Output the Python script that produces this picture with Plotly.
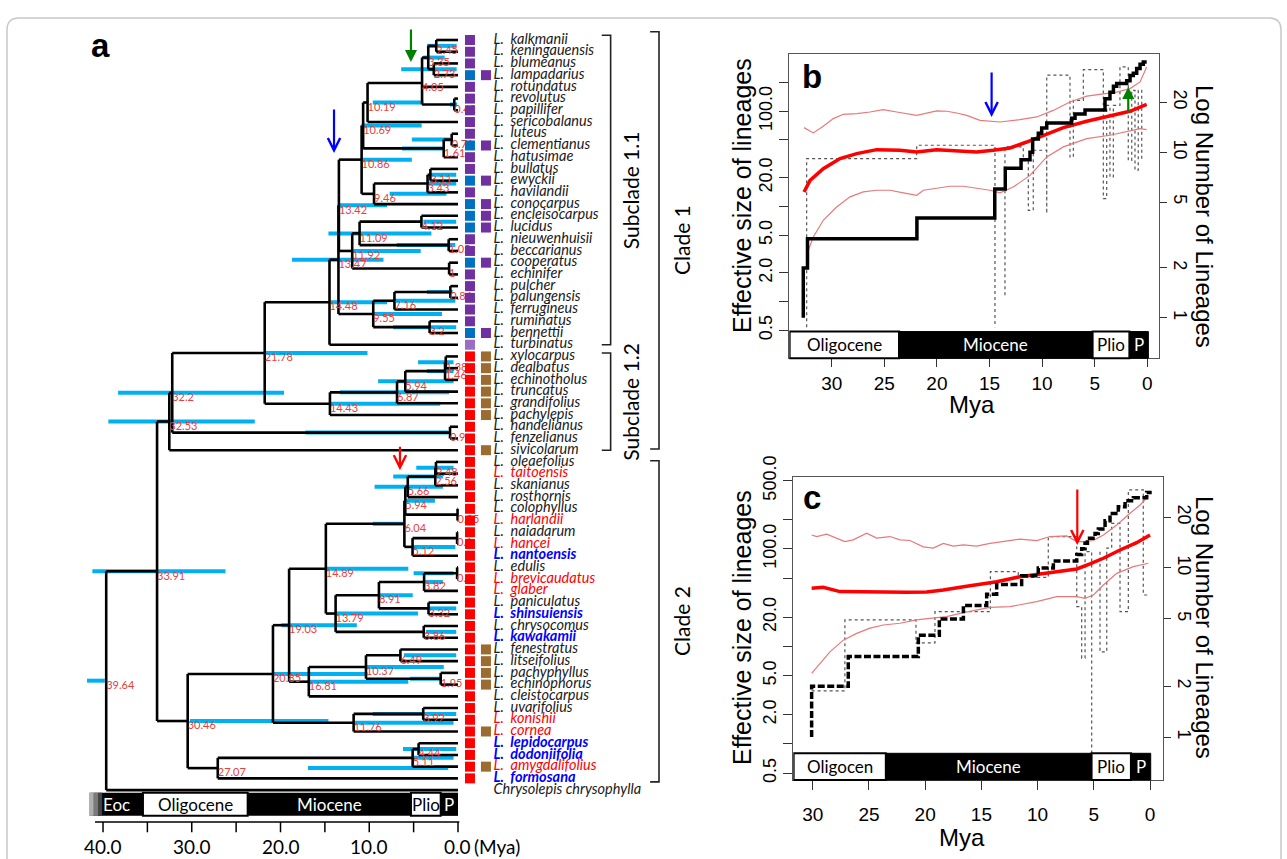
import math
import plotly.graph_objects as go

W, H = 1287, 859

# ---------------- panel a : tips ----------------
SPECIES = ["kalkmanii", "keningauensis", "blumeanus", "lampadarius", "rotundatus", "revolutus",
           "papillifer", "sericobalanus", "luteus", "clementianus", "hatusimae", "bullatus",
           "ewyckii", "havilandii", "conocarpus", "encleisocarpus", "lucidus", "nieuwenhuisii",
           "beccarianus", "cooperatus", "echinifer", "pulcher", "palungensis", "ferrugineus",
           "ruminatus", "bennettii", "turbinatus", "xylocarpus", "dealbatus", "echinotholus",
           "truncatus", "grandifolius", "pachylepis", "handelianus", "fenzelianus", "sivicolarum",
           "oleaefolius", "taitoensis", "skanianus", "rosthornis", "colophyllus", "harlandii",
           "naiadarum", "hancei", "nantoensis", "edulis", "brevicaudatus", "glaber", "paniculatus",
           "shinsuiensis", "chrysocomus", "kawakamii", "fenestratus", "litseifolius", "pachyphyllus",
           "echinophorus", "cleistocarpus", "uvarifolius", "konishii", "cornea", "lepidocarpus",
           "dodoniifolia", "amygdalifolius", "formosana", "Chrysolepis chrysophylla"]
RED_TIPS = ["taitoensis", "harlandii", "hancei", "brevicaudatus", "glaber", "konishii", "cornea",
            "amygdalifolius"]
BLUE_TIPS = ["nantoensis", "shinsuiensis", "kawakamii", "lepidocarpus", "dodoniifolia", "formosana"]
OUTGROUP = "Chrysolepis chrysophylla"

SQ_COL1 = (["P", "P", "P", "B", "P", "P", "P", "P", "P", "B", "P", "P", "B", "P", "B", "B", "B", "P",
            "P", "B", "P", "P", "P", "P", "P", "B", "L"] + ["R"] * 37 + [""])
SQ_COL2 = (["", "", "", "P", "", "", "", "", "", "P", "", "", "P", "", "P", "P", "P", "", "", "P",
            "", "", "", "", "", "P", "", "W", "W", "W", "W", "W", "W", "", "", "W"] + [""] * 16 +
           ["W", "W", "W", "W", "", "", "", "W", "", "", "W", "", ""])
SQ_COLORS = {"P": "#7030A0", "B": "#0070C0", "R": "#FF0000", "W": "#9C6B30", "L": "#9B6CC4"}

# internal nodes: id, age (Mya), label, HPD old, HPD young, children (int = tip number)
NODES = [
    ("A", 2.45, "2.45", 3.5, 0.15, [1, 2]),
    ("B", 2.73, "2.73", 6.4, 0.15, [3, 4]),
    ("C", 3.35, "3.35", 3.9, 1.5, ["A", "B"]),
    ("F", 0.42, "0.42", 0.9, 0.1, [6, 7]),
    ("E", 4.05, "4.05", None, None, ["C", 5, "F"]),
    ("G", 10.19, "10.19", 9.6, 3.9, ["E", 8]),
    ("H", 0.71, "0.71", 5.2, 0.9, [9, 10]),
    ("I", 1.61, "1.61", 6.3, 1.7, ["H", 11]),
    ("J", 10.69, "10.69", 10.7, 4.1, ["G", "I"]),
    ("N1", 3.11, "3.11", 3.2, 0.2, [12, 13]),
    ("N2", 3.43, "3.43", 3.5, 0.2, ["N1", 14]),
    ("L", 9.46, "9.46", 7.7, 1.3, ["N2", 15]),
    ("K", 10.86, "10.86", 10.7, 5.2, ["J", "L"]),
    ("Q", 4.12, "4.12", 3.9, 0.2, [16, 17]),
    ("S", 1.05, "1.05", 6.9, 0.3, [18, 19]),
    ("R", 11.09, "11.09", 14.6, 3.0, ["Q", "S"]),
    ("T", 1.0, "1", None, None, [20, 21]),
    ("U", 11.92, "11.92", 11.8, 4.2, ["R", "T"]),
    ("O", 13.42, "13.42", 13.3, 8.0, ["K", "U"]),
    ("V", 0.86, "0.86", 3.5, 0.6, [22, 23]),
    ("W", 7.16, "7.16", 7.3, 0.3, ["V", 24]),
    ("X", 3.2, "3.2", 7.3, 0.2, [25, 26]),
    ("Y", 9.55, "9.55", 9.6, 1.8, ["W", "X"]),
    ("AA", 13.47, "13.47", 18.7, 8.4, ["O", "Y"]),
    ("Z", 14.48, "14.48", 14.4, 8.0, ["AA", 27]),
    ("FF", 1.38, "1.38", 4.5, 0.5, [28, 29]),
    ("GG", 1.46, "1.46", 3.5, 0.5, ["FF", 30]),
    ("EE", 5.94, "5.94", 9.0, 0.5, ["GG", 31]),
    ("DD", 6.87, "6.87", 13.3, 1.0, ["EE", 32]),
    ("BB", 14.43, "14.43", 14.4, 2.0, ["DD", 33]),
    ("CC", 21.78, "21.78", 21.7, 10.2, ["Z", "BB"]),
    ("HH", 0.9, "0.9", 17.2, 1.1, [34, 35]),
    ("II", 32.2, "32.2", 38.3, 19.6, ["CC", "HH"]),
    ("JJ", 32.53, "32.53", 39.4, 22.9, ["II", 36]),
    ("LL", 2.48, "2.48", 4.7, 0.5, [37, 38]),
    ("MM", 2.56, "2.56", 7.3, 1.7, ["LL", 39]),
    ("NN", 5.66, "5.66", 9.4, 1.7, ["MM", 40]),
    ("PP", 0.05, "0.05", None, None, [41, 42]),
    ("OO", 5.94, "5.94", 5.9, 2.6, ["NN", "PP"]),
    ("SS", 0.1, "0.1", None, None, [43, 44]),
    ("RR", 5.12, "5.12", 5.2, 0.3, ["SS", 45]),
    ("QQ", 6.04, "6.04", 9.6, 6.2, ["OO", "RR"]),
    ("ZZ", 0.1, "0.1", 5.0, 0.5, [46, 47]),
    ("XX", 3.82, "3.82", 3.7, 1.7, ["ZZ", 48]),
    ("YY", 3.32, "3.32", 3.4, 0.2, [49, 50]),
    ("VV", 8.91, "8.91", 8.8, 5.1, ["XX", "YY"]),
    ("WW", 3.86, "3.86", 3.6, 0.2, [51, 52]),
    ("UU", 13.79, "13.79", 13.7, 4.5, ["VV", "WW"]),
    ("TT", 14.89, "14.89", 14.8, 5.6, ["QQ", "UU"]),
    ("AF", 6.49, "6.49", 6.1, 0.2, [53, 54]),
    ("AG", 1.95, "1.95", 5.4, 1.8, [55, 56]),
    ("AE", 10.37, "10.37", 10.3, 1.6, ["AF", "AG"]),
    ("AC", 16.81, "16.81", 16.7, 5.6, ["AE", 57]),
    ("AD", 19.03, "19.03", 19.9, 11.4, ["TT", "AC"]),
    ("AI", 3.92, "3.92", 9.6, 0.2, [58, 59]),
    ("AH", 11.76, "11.76", 11.6, 0.5, ["AI", 60]),
    ("AB", 20.85, "20.85", 20.8, 10.2, ["AD", "AH"]),
    ("AL", 4.44, "4.44", 6.2, 0.2, [61, 62]),
    ("AK", 5.11, "5.11", 5.2, 0.5, ["AL", 63]),
    ("AJ", 27.07, "27.07", 16.9, 1.1, ["AK", 64]),
    ("AM", 30.46, "30.46", 30.2, 14.6, ["AB", "AJ"]),
    ("KK", 33.91, "33.91", 41.2, 26.2, ["JJ", "AM"]),
    ("ROOT", 39.64, "39.64", 41.8, 39.8, ["KK", 65]),
]

GEO_A = [("Eoc", 41.5, 35.5, "k"), ("Oligocene", 35.5, 23.7, "w"), ("Miocene", 23.7, 5.3, "k"),
         ("Plio", 5.3, 1.95, "w"), ("P", 1.95, 0.0, "k")]
AXIS_A_TICKS = [40, 35, 30, 25, 20, 15, 10, 5, 0]
AXIS_A_LABELS = ["40.0", "", "30.0", "", "20.0", "", "10.0", "", "0.0"]
CLADES = [("Subclade 1.1", 0.6, 27.0, 1), ("Subclade 1.2", 27.7, 36.0, 1),
          ("Clade 1", 0.3, 35.9, 2), ("Clade 2", 36.9, 64.3, 2)]

# ---------------- panel b ----------------
B_MED_T = [32.63, 32.06, 30.8, 29.21, 27.62, 25.72, 23.51, 21.92, 20.02, 18.12, 16.22, 14.64, 13.05,
           11.47, 9.88, 7.98, 5.76, 3.55, 1.65, 0.06]
B_MED_V = [14.2, 18.8, 24.9, 31.8, 35.9, 39.5, 38.9, 37.3, 39.5, 38.3, 37.3, 38.9, 41.1, 47.5, 55.9,
           67.3, 78.4, 88.5, 99.8, 118]
B_UP_T = [32.63, 31.75, 30.8, 29.85, 28.9, 27.62, 26.36, 25.1, 23.82, 21.92, 20.02, 19.07, 18.12,
          17.17, 15.9, 14.95, 14.0, 12.1, 10.51, 8.94, 7.35, 5.76, 4.18, 2.91, 1.65, 0.69, 0.06]
B_UP_V = [67.3, 59.2, 69.5, 83.7, 92.9, 94.4, 98.2, 104, 98.2, 90.6, 101, 100, 95.9, 90.6, 80.3, 79.0,
          77.1, 81.7, 87.1, 102, 125, 144, 153, 159, 173, 203, 292]
B_LO_T = [32.22, 31.75, 30.8, 29.53, 28.26, 27.0, 25.72, 24.46, 23.19, 21.92, 21.29, 20.02, 18.75,
          17.49, 16.22, 14.95, 14.0, 12.74, 11.15, 9.56, 7.98, 5.76, 3.55, 1.96, 0.69, 0.06]
B_LO_V = [3.46, 4.78, 7.15, 9.87, 12.6, 14.2, 14.8, 14.8, 13.9, 13.1, 14.8, 15.4, 16.3, 16.3, 15.4,
          14.8, 13.9, 16.0, 21.2, 33.1, 42.2, 51.5, 55.9, 60.6, 65.6, 64.1]
B_LTT_T = [32.7, 32.7, 32.3, 21.9, 14.5, 13.5, 12.0, 11.15, 10.9, 10.36, 10.04, 9.56, 7.19, 6.87, 5.92,
           4.02, 3.55, 3.22, 2.91, 1.96, 1.64, 1.33, 1.01, 0.69, 0.38, 0.06]
B_LTT_N = [1, 2, 3, 4, 6, 8, 9, 10, 12, 13, 14, 15, 16, 17, 18, 21, 23, 25, 26, 27, 29, 30, 32, 34, 35, 35]
B_SKY_T = [32.38, 32.38, 21.92, 21.92, 14.48, 14.48, None, 13.53, 13.53, 11.79, 11.79, 11.31, 11.31,
           10.84, 10.84, 9.56, 9.56, 9.56, 7.35, 7.35, 7.03, 7.03, 6.08, 6.08, 4.18, 4.18, 3.86, 3.86,
           3.55, 3.55, 3.23, 3.23, 2.6, 2.6, 1.81, 1.81, 1.48, 1.48, 1.17, 1.17, 0.86, 0.86, 0.53, 0.53]
B_SKY_V = [0.54, 31.8, 31.8, 43.9, 43.9, 0.54, None, 1.17, 42.2, 42.2, 30.5, 30.5, 9.1, 9.1, 38.9,
           38.9, 8.4, 239, 239, 33.1, 33.1, 130, 130, 274, 274, 12.1, 12.1, 115, 115, 20.4, 20.4, 115,
           115, 292, 292, 30.5, 30.5, 166, 166, 24.0, 24.0, 166, 166, 30.5]
GEO_B = [("Oligocene", 34.0, 23.6, "w"), ("Miocene", 23.6, 5.2, "k"), ("Plio", 5.2, 1.7, "w"),
         ("P", 1.7, -0.1, "k")]

# ---------------- panel c ----------------
C_MED_T = [30.1, 29.07, 27.58, 24.62, 21.65, 19.87, 18.39, 16.6, 14.83, 14.23, 13.64, 11.57, 8.6, 6.52,
           5.34, 4.15, 2.67, 1.19, 0.0]
C_MED_V = [39.5, 40.4, 36.5, 35.9, 35.9, 36.2, 37.9, 41.0, 44.4, 45.1, 46.1, 51.9, 58.4, 62.3, 70.1,
           80.2, 97.5, 116, 139]
C_UP_T = [30.1, 29.65, 28.76, 28.17, 27.14, 26.4, 25.2, 24.32, 23.13, 22.24, 21.35, 20.17, 19.28, 18.39,
          17.5, 16.6, 15.42, 14.23, 11.57, 10.08, 8.9, 7.41, 6.52, 5.93, 5.04, 4.15, 2.96, 1.78, 0.89, 0.15]
C_UP_V = [139, 134, 142, 134, 119, 124, 145, 129, 134, 124, 122, 105, 102, 114, 107, 110, 107, 114,
          126, 122, 134, 136, 119, 119, 122, 139, 176, 232, 282, 349]
C_LO_T = [30.1, 29.36, 28.47, 27.29, 26.09, 24.91, 23.73, 22.24, 20.76, 19.57, 18.09, 16.6, 15.12,
          14.23, 12.46, 10.08, 8.3, 6.52, 5.78, 5.04, 4.15, 2.96, 1.48, 0.15]
C_LO_V = [5.3, 6.7, 8.8, 11.6, 13.6, 15.4, 16.6, 17.3, 18.7, 19.4, 20.2, 22.2, 24.0, 25.2, 25.6, 28.8,
          32.4, 32.4, 31.2, 33.7, 42.7, 56.2, 65.8, 71.3]
C_LTT_T = [30.1, 30.1, 26.84, 20.61, 18.74, 16.6, 14.53, 13.64, 11.42, 9.94, 8.6, 6.52, 6.08, 5.78,
           5.57, 4.89, 4.6, 4.0, 3.56, 2.82, 2.22, 1.48, 0.3, -0.15]
C_LTT_N = [1, 2, 3, 4, 5, 6, 7, 8, 9, 10, 11, 12, 13, 14, 15, 16, 17, 19, 21, 23, 25, 26, 28, 28]
C_SKY_T = [30.1, 27.14, 27.14, 20.82, 20.82, 19.13, 19.13, 14.2, 14.2, 11.72, 11.72, 9.05, 9.05, 6.52,
           6.52, 6.08, 6.08, 5.78, 5.78, 5.19, 5.19, None, 4.45, 4.45, 3.85, 3.85, 3.41, 3.41, 2.67,
           2.67, 1.93, 1.93, 0.6, 0.6, 0.15]
C_SKY_V = [3.5, 3.5, 18.7, 18.7, 10.9, 10.9, 22.7, 22.7, 58.4, 58.4, 51.2, 51.2, 134, 134, 25.6, 25.6,
           7.6, 7.6, 93.7, 93.7, 0.45, None, 93.7, 8.8, 8.8, 102, 102, 183, 183, 22.7, 22.7, 403, 403,
           33.7, 33.7]
GEO_C = [("Oligocen", 31.7, 23.5, "w"), ("Miocene", 23.5, 5.2, "k"), ("Plio", 5.2, 1.7, "w"),
         ("P", 1.7, -0.06, "k")]

# panel, x (Mya), y (data), tail offset (px), colour, head style
ARROWS = [("a", 5.3, 2.88, -34, "#008000", 2), ("a", 13.97, 10.64, -45, "#0000FF", 5),
          ("a", 6.54, 37.7, -25, "#FF0000", 5), ("b", 14.8, 87.1, -46, "#0000FF", 5),
          ("b", 1.81, 180, 27, "#008000", 2), ("c", 6.47, 110, -57, "#FF0000", 5)]

# ====================================================================
SANS = "Liberation Sans, Arial, sans-serif"
CAL = "Lato, Carlito, sans-serif"
node_map = {n[0]: n for n in NODES}
ypos = {}


def get_y(c):
    if isinstance(c, int):
        return float(c)
    if c not in ypos:
        ch = node_map[c][5]
        ypos[c] = sum(get_y(k) for k in ch) / len(ch)
    return ypos[c]


def get_age(c):
    return 0.0 if isinstance(c, int) else node_map[c][1]


fig = go.Figure()

# HPD bars
bx, by = [], []
for nid, age, lab, h0, h1, ch in NODES:
    if h0 is not None:
        y = get_y(nid)
        bx += [h0, h1, None]
        by += [y, y, None]
fig.add_trace(go.Scatter(x=bx, y=by, mode="lines", line=dict(color="#00B0F0", width=4),
                         hoverinfo="skip", xaxis="x", yaxis="y"))

# tree edges
tx, ty = [], []
for nid, age, lab, h0, h1, ch in NODES:
    ys = [get_y(k) for k in ch]
    tx += [age, age, None]
    ty += [min(ys), max(ys), None]
    for k in ch:
        tx += [age, get_age(k), None]
        ty += [get_y(k), get_y(k), None]
fig.add_trace(go.Scatter(x=tx, y=ty, mode="lines", line=dict(color="black", width=2.6),
                         hoverinfo="skip", xaxis="x", yaxis="y"))

# node labels
fig.add_trace(go.Scatter(x=[n[1] for n in NODES], y=[get_y(n[0]) for n in NODES],
                         text=[n[2] for n in NODES], mode="text", textposition="bottom right",
                         textfont=dict(size=11, color="#E8403A", family=CAL),
                         hoverinfo="skip", xaxis="x", yaxis="y"))

# squares
tips = list(range(1, len(SPECIES) + 1))
for col_vals, xc in ((SQ_COL1, -1.35), (SQ_COL2, -3.15)):
    ys = [t for t, c in zip(tips, col_vals) if c]
    cs = [SQ_COLORS[c] for c in col_vals if c]
    fig.add_trace(go.Scatter(x=[xc] * len(ys), y=ys, mode="markers",
                             marker=dict(symbol="square", size=10, color=cs, line=dict(width=0)),
                             hoverinfo="skip", xaxis="x", yaxis="y"))

# species names
names, ncol = [], []
for s in SPECIES:
    if s == OUTGROUP:
        names.append("<i>" + s + "</i>")
        ncol.append("#1a1a1a")
    elif s in BLUE_TIPS:
        names.append("<b><i>L.\u00a0 " + s + "</i></b>")
        ncol.append("#0000FF")
    elif s in RED_TIPS:
        names.append("<i>L.\u00a0 " + s + "</i>")
        ncol.append("#FF0000")
    else:
        names.append("<i>L.\u00a0 " + s + "</i>")
        ncol.append("#1a1a1a")
fig.add_trace(go.Scatter(x=[-4.0] * len(tips), y=tips, text=names, mode="text",
                         textposition="middle right",
                         textfont=dict(size=14.5, color=ncol, family=CAL),
                         hoverinfo="skip", xaxis="x", yaxis="y"))

# clade brackets
brx, bry = [], []
for lab, y0, y1, lvl in CLADES:
    xb = -17.2 if lvl == 1 else -22.65
    brx += [xb + 1.0, xb, xb, xb + 1.0, None]
    bry += [y0, y0, y1, y1, None]
fig.add_trace(go.Scatter(x=brx, y=bry, mode="lines", line=dict(color="#222", width=1.6),
                         hoverinfo="skip", xaxis="x", yaxis="y"))

# panel a time axis
AX_Y, TICK_Y = 67.72, 68.6
axx = [AXIS_A_TICKS[0] + 0.9, AXIS_A_TICKS[-1] - 0.15, None]
axy = [AX_Y, AX_Y, None]
for t in AXIS_A_TICKS:
    axx += [t, t, None]
    axy += [AX_Y, TICK_Y, None]
fig.add_trace(go.Scatter(x=axx, y=axy, mode="lines", line=dict(color="black", width=1.5),
                         hoverinfo="skip", xaxis="x", yaxis="y"))

# panel b
fig.add_trace(go.Scatter(x=B_SKY_T, y=B_SKY_V, mode="lines", connectgaps=False,
                         line=dict(color="#555", width=1.2, dash="dot"), xaxis="x2", yaxis="y2"))
fig.add_trace(go.Scatter(x=B_UP_T, y=B_UP_V, mode="lines", line=dict(color="#E8797A", width=1.2),
                         xaxis="x2", yaxis="y2"))
fig.add_trace(go.Scatter(x=B_LO_T, y=B_LO_V, mode="lines", line=dict(color="#E8797A", width=1.2),
                         xaxis="x2", yaxis="y2"))
fig.add_trace(go.Scatter(x=B_MED_T, y=B_MED_V, mode="lines", line=dict(color="#FF0000", width=3.5),
                         xaxis="x2", yaxis="y2"))
fig.add_trace(go.Scatter(x=B_LTT_T, y=B_LTT_N, mode="lines", line=dict(color="black", width=3.5, shape="hv"),
                         xaxis="x2", yaxis="y3"))

# panel c
fig.add_trace(go.Scatter(x=C_SKY_T, y=C_SKY_V, mode="lines", connectgaps=False,
                         line=dict(color="#555", width=1.2, dash="dot"), xaxis="x3", yaxis="y4"))
fig.add_trace(go.Scatter(x=C_UP_T, y=C_UP_V, mode="lines", line=dict(color="#E8797A", width=1.2),
                         xaxis="x3", yaxis="y4"))
fig.add_trace(go.Scatter(x=C_LO_T, y=C_LO_V, mode="lines", line=dict(color="#E8797A", width=1.2),
                         xaxis="x3", yaxis="y4"))
fig.add_trace(go.Scatter(x=C_MED_T, y=C_MED_V, mode="lines", line=dict(color="#FF0000", width=3.5),
                         xaxis="x3", yaxis="y4"))
fig.add_trace(go.Scatter(x=C_LTT_T, y=C_LTT_N, mode="lines",
                         line=dict(color="black", width=3.5, shape="hv", dash="7px,2.5px"),
                         xaxis="x3", yaxis="y5"))

# ---------------- shapes & annotations ----------------
shapes, ann = [], []

# panel a geologic bar
GA0, GA1 = 65.22, 67.2
for name, t0, t1, sty in GEO_A:
    shapes.append(dict(type="rect", xref="x", yref="y", x0=t0, x1=t1, y0=GA0, y1=GA1,
                       fillcolor="black" if sty == "k" else "white",
                       line=dict(color="black", width=2 if sty == "w" else 0), layer="above"))
grad = ["#b0b0b0", "#7a7a7a", "#444444"]
g0, g1 = GEO_A[0][1], GEO_A[0][1] - 1.4
for i, gc in enumerate(grad):
    shapes.append(dict(type="rect", xref="x", yref="y", x0=g0 + (g1 - g0) * i / 3,
                       x1=g0 + (g1 - g0) * (i + 1) / 3, y0=GA0, y1=GA1, fillcolor=gc,
                       line=dict(width=0), layer="above"))
for name, t0, t1, sty in GEO_A:
    ann.append(dict(x=(t0 + t1) / 2, y=(GA0 + GA1) / 2, xref="x", yref="y", text=name, showarrow=False,
                    xanchor="center", yanchor="middle",
                    font=dict(family=CAL, size=17, color="white" if sty == "k" else "black")))
for t, lab in zip(AXIS_A_TICKS, AXIS_A_LABELS):
    if lab:
        ann.append(dict(x=t, y=69.8, xref="x", yref="y", text=lab, showarrow=False,
                        xanchor="center", yanchor="middle", font=dict(family=CAL, size=19)))
ann.append(dict(x=0, y=69.8, xref="x", yref="y", text="(Mya)", showarrow=False, xanchor="left",
                yanchor="middle", xshift=14, font=dict(family=CAL, size=19)))

for lab, y0, y1, lvl in CLADES:
    ann.append(dict(x=-19.4 if lvl == 1 else -25.2, y=(y0 + y1) / 2, xref="x", yref="y", text=lab,
                    showarrow=False, textangle=-90, xanchor="center", yanchor="middle",
                    font=dict(family=CAL, size=21)))

# panels b/c geologic bars
for geo, xr, yr in ((GEO_B, "x2", "y2"), (GEO_C, "x3", "y4")):
    for name, t0, t1, sty in geo:
        shapes.append(dict(type="rect", xref=xr, yref=yr + " domain", x0=t0, x1=t1, y0=0, y1=0.088,
                           fillcolor="black" if sty == "k" else "white",
                           line=dict(color="black", width=2 if sty == "w" else 1), layer="above"))
        ann.append(dict(x=(t0 + t1) / 2, y=0.044, xref=xr, yref=yr + " domain", text=name,
                        showarrow=False, xanchor="center", yanchor="middle",
                        font=dict(family=CAL, size=17, color="white" if sty == "k" else "black")))

# arrows
for pan, ax_t, ax_v, off, col, head in ARROWS:
    if pan == "a":
        xr, yr, yv = "x", "y", ax_v
    elif pan == "b":
        xr, yr, yv = "x2", "y2", math.log10(ax_v)
    else:
        xr, yr, yv = "x3", "y4", math.log10(ax_v)
    ann.append(dict(x=ax_t, y=yv, xref=xr, yref=yr, ax=0, ay=off, showarrow=True, arrowcolor=col,
                    arrowhead=head, arrowwidth=2.2, arrowsize=1.1, text=""))


# panel letters and titles
def P(xp, yp):
    return xp / W, 1 - yp / H


for txt, (xp, yp) in (("a", (100, 46)), ("b", (812, 77)), ("c", (812, 497))):
    x, y = P(xp, yp)
    ann.append(dict(x=x, y=y, xref="paper", yref="paper", text="<b>" + txt + "</b>", showarrow=False,
                    xanchor="center", yanchor="middle", font=dict(family=SANS, size=33)))
for txt, (xp, yp), ang, fs in (("Effective size of lineages", (742, 196), -90, 25),
                               ("Log Number of Lineages", (1204, 216), 90, 24),
                               ("Effective size of lineages", (742, 628), -90, 25),
                               ("Log Number of Lineages", (1205, 627), 90, 24),
                               ("Mya", (972, 404), 0, 24), ("Mya", (962, 837), 0, 24)):
    x, y = P(xp, yp)
    ann.append(dict(x=x, y=y, xref="paper", yref="paper", text=txt, showarrow=False, textangle=ang,
                    xanchor="center", yanchor="middle", font=dict(family=SANS, size=fs)))


# outer rounded frame
def pp(xp, yp):
    return "%.5f,%.5f" % (xp / W, 1 - yp / H)


frame = ("M " + pp(7, 880) + " L " + pp(7, 30) + " Q " + pp(7, 18) + " " + pp(19, 18) + " L " +
         pp(1269, 18) + " Q " + pp(1281, 18) + " " + pp(1281, 30) + " L " + pp(1281, 880))
shapes.append(dict(type="path", xref="paper", yref="paper", path=frame,
                   line=dict(color="#C8C8C8", width=1.5)))

xcommon = dict(showgrid=False, zeroline=False, ticks="outside", tickwidth=1.2,
               tickcolor="#333", showline=True, mirror=True, linecolor="#555", linewidth=1.2,
               tickfont=dict(family=SANS, size=19), tickvals=[30, 25, 20, 15, 10, 5, 0],
               automargin=False)
ycommon = dict(showgrid=False, zeroline=False, type="log", ticks="outside", ticklen=9, tickwidth=1.2,
               tickcolor="#333", showline=True, mirror=True, linecolor="#555", linewidth=1.2,
               tickfont=dict(family=SANS, size=18), tickangle=-90, automargin=False)
rcommon = dict(showgrid=False, zeroline=False, type="log", ticks="outside", ticklen=7, tickwidth=1.2,
               tickcolor="#333", showline=False, tickfont=dict(family=SANS, size=18), tickangle=90,
               side="right", tickvals=[1, 2, 5, 10, 20], automargin=False)

fig.update_layout(
    width=W, height=H, margin=dict(l=0, r=0, t=0, b=0, pad=0, autoexpand=False), autosize=False,
    paper_bgcolor="white", plot_bgcolor="rgba(0,0,0,0)", showlegend=False,
    font=dict(family=SANS, color="black"),
    xaxis=dict(domain=[85 / W, 700 / W], range=[42.03, -27.27], visible=False, automargin=False),
    yaxis=dict(domain=[0, 1], range=[70.88, -2.413], visible=False, automargin=False),
    xaxis2=dict(domain=[789.3 / W, 1159.3 / W], range=[34.03, -1.14], anchor="y2", ticklen=8,
                **xcommon),
    yaxis2=dict(domain=[1 - 358.3 / H, 1 - 54.3 / H], range=[-0.595, 2.598], anchor="x2",
                tickvals=[0.5, 1, 2, 5, 10, 20, 50, 100, 200],
                ticktext=["0.5", "", "2.0", "5.0", "", "20.0", "", "100.0", ""], **ycommon),
    yaxis3=dict(overlaying="y2", anchor="x2", range=[-0.245, 1.591], **rcommon),
    xaxis3=dict(domain=[793.3 / W, 1163.3 / W], range=[31.73, -1.18], anchor="y4", ticklen=9,
                ticklabelstandoff=8, **xcommon),
    yaxis4=dict(domain=[1 - 780 / H, 1 - 476.7 / H], range=[-0.370, 2.741], anchor="x3",
                tickvals=[0.5, 1, 2, 5, 10, 20, 50, 100, 200, 500],
                ticktext=["0.5", "", "2.0", "5.0", "", "20.0", "", "100.0", "", "500.0"], **ycommon),
    yaxis5=dict(overlaying="y4", anchor="x3", range=[-0.254, 1.540], **rcommon),
    shapes=shapes, annotations=ann,
)

fig.write_html("out.html", config={"displayModeBar": False},
               post_script="document.body.style.margin='0';document.body.style.overflow='hidden';")
